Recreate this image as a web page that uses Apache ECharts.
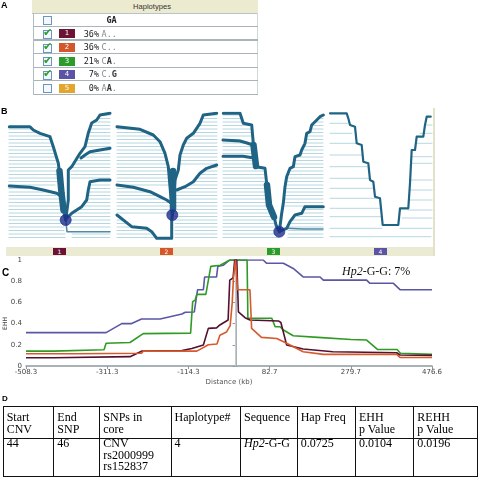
<!DOCTYPE html>
<html><head><meta charset="utf-8">
<script src="https://cdn.jsdelivr.net/npm/echarts@6/dist/echarts.min.js"></script>
<style>
html,body{margin:0;padding:0;background:#fff}
body{width:480px;height:478px;overflow:hidden;position:relative;font-family:"Liberation Sans",Arial,sans-serif}
#chart{position:absolute;left:0;top:0;width:480px;height:478px}
.a{position:absolute;white-space:nowrap}
.plab{position:absolute;font:bold 9px "Liberation Sans",Arial,sans-serif;color:#000}
.mono{font-family:"DejaVu Sans Mono",monospace;font-size:8.5px}
.ser{font-family:"Liberation Serif","Times New Roman",serif;font-size:12px;line-height:11.6px;color:#000}
</style></head>
<body>
<div id="chart"></div>
<div id="overlay"></div>
<script>
// ---------- Panel A data ----------
const hapIds = ['1','2','3','4','5'];
const hapPct = ['36%','36%','21%','7%','0%'];
const hapSeq = ['A..','C..','CA.','C.G','AA.'];
const hapChecked = [true,true,true,true,false];
const hapColors = ['#6b1236','#d4572c','#2b9b2b','#5a53a6','#e2a52d'];
const coreSnps = 'GA';

// ---------- Panel C data (distance kb, EHH) ----------
const xTicks = [-508.3,-311.3,-114.3,82.7,279.7,476.6];
const hap1 = [[-508.3,0.078],[-442,0.078],[-440,0.088],[-256,0.088],[-228,0.14],[-130,0.145],[-106,0.165],[-78,0.198],[-66,0.355],[-46,0.36],[-38,0.387],[-18,0.434],[-14,0.81],[-6,0.83],[-2,1.0],[3,1.0],[7,0.51],[23,0.456],[35,0.434],[104,0.425],[110,0.41],[124,0.198],[164,0.16],[236,0.135],[391,0.125],[399,0.104],[476.6,0.10]];
const hap2 = [[-508.3,0.115],[-389,0.115],[-386,0.12],[-228,0.12],[-224,0.14],[-94,0.14],[-86,0.157],[-66,0.2],[-45,0.207],[-38,0.29],[-22,0.32],[-13,0.38],[-8,0.6],[-5,0.83],[0,1.0],[5,0.72],[35,0.72],[39,0.355],[63,0.27],[100,0.26],[124,0.214],[164,0.135],[213,0.11],[391,0.11],[399,0.08],[476.6,0.08]];
const hap3 = [[-508.3,0.14],[-442,0.14],[-440,0.154],[-319,0.154],[-314,0.214],[-256,0.222],[-224,0.305],[-109,0.31],[-104,0.607],[-98,0.62],[-94,0.676],[-72,0.676],[-60,0.94],[-37,0.95],[-14,1.0],[28,1.0],[30,0.45],[88,0.45],[96,0.37],[108,0.37],[116,0.34],[140,0.285],[200,0.27],[280,0.25],[318,0.245],[345,0.155],[392,0.155],[400,0.12],[476.6,0.11]];
const hap4 = [[-508.3,0.315],[-314,0.315],[-276,0.40],[-252,0.40],[-228,0.443],[-183,0.443],[-130,0.49],[-122,0.507],[-100,0.51],[-96,0.62],[-92,0.72],[-78,0.72],[-75,0.84],[-46,0.84],[-43,0.94],[-30,0.95],[-14,1.0],[67,1.0],[75,0.97],[116,0.97],[140,0.92],[164,0.84],[205,0.84],[213,0.81],[318,0.81],[326,0.78],[383,0.78],[399,0.72],[476.6,0.72]];

// ---------- Panel B data (local diagram coords) ----------
const rowYs = [2,5.5,9,12.5,16,19.5,23,26.5,30,33.5,37,40.5,44,47.5,51,54.5,58,61.5,65,68.5,72,75.5,79,82.5,86,89.5,93,96.5,100,103.5,107,110.5,114,117.5,121,124.5];
const d1LeftEnd = [null,null,null,null,22,29,38,41,42,43,45,46,46,47,47,48,48,49,49,50,46,24,40,47,51,51,52,52,53,53,53,54,55,55,56,56];
const d1RightStart = [93,89,86,82,81,80,79,78,77,77,92,78,70,67,64,62,62,62,62,82,81,80,79,79,78,76,73,68,64,62,62,61,61,null,63,63];
const d2LeftEnd = [null,null,null,null,22,30,36,41,43,45,47,48,49,50,50,51,51,52,52,52,53,16,33,42,48,53,54,54,54,3,7,12,16,34,37,39];
const d2RightStart = [88,85,84,81,79,77,72,69,67,66,64,63,63,62,62,91,84,82,79,77,70,66,60,58,58,57,57,57,56,57,58,58,58,58,58,58];
const d3LeftEnd = [17,18,19,27,28,28,28,16,22,29,30,31,18,31,32,32,41,42,42,42,43,43,43,44,44,44,45,46,47,50,51,51,53,54,55,56];
const d3RightStart = [null,95,91,88,88,86,84,84,84,81,80,79,73,72,72,69,67,66,65,64,64,63,63,63,62,62,62,81,77,74,70,67,65,65,65,65];
const d4LeftRows = [[10.3,18],[20.3,22],[30.3,27],[42,32],[53.7,37],[65.3,39],[75.3,44],[85.3,47],[95.3,50],[103.7,51],[115.3,52],[123.7,101]];
const d4RightRows = [[12,95],[20.3,90],[30.3,86],[43.7,82],[50.3,81],[67,80],[77,80],[87,80],[97,78],[105,72],[115.3,70]];

const d1Thick = [
 [[0.3,13.7],[21,13.7],[24.3,17],[31,20.3],[41,23.7],[44.3,33.7],[49.3,50.3],[51,63.7],[52.7,80.3],[54.3,97],[56.7,107]],
 [[0.3,73],[21,74.3],[34.3,77],[47.7,80.3],[53,84]],
 [[101,0.3],[91,2],[87.7,7],[82.7,10],[79.3,20],[76,33.7],[71,40.3],[62.7,53.7],[59.3,57],[59.3,87],[56.7,107]],
 [[101,35.3],[91,37],[81,38.7],[76,42],[72,45]],
 [[101,67],[91,67],[81,68.7],[79.3,77],[77.7,87],[72.7,93.7],[62.7,100.3],[57.7,105]]
];
const d1Medium = [[[56.7,107],[58,118.7],[62.7,118.7],[101,118.7]]];
const d1Trunk = [[[50.5,58],[52.5,80],[54.5,97]]];
const d2Thick = [
 [[0,13.7],[23,16.3],[36.3,22],[43,28.7],[48,40.3],[51.3,53.7],[53,73.7],[54.7,93.7],[55.3,102]],
 [[0,72],[16.3,74.3],[33,78.7],[43,83.7],[49.7,87],[54,90]],
 [[99.7,0.3],[86.3,2],[83,10.3],[76.3,20.3],[69.7,25.3],[66.3,32],[63,42],[61.3,57],[58,67],[56.3,87],[55.3,102]],
 [[99.7,52],[89.7,55.3],[83,60.3],[76.3,68.7],[68,73.7],[59.7,77]],
 [[0,102],[14.7,113.7],[29.7,115.3],[34.7,118.7],[39.7,125.3],[54.7,125.3],[54.7,107],[55.3,102]]
];
const d2Medium = [];
const d2Trunk = [[[56,58],[56,96]]];
const d3Thick = [
 [[0.3,0.3],[17,0.3],[20.3,10.3],[28.7,12],[30.3,30.3],[33,53.7],[42,55.3],[43.7,70.3],[45.3,90.3],[50.3,100.3],[53,112],[56.3,118.7]],
 [[0,27],[17,28],[24,30],[30,32]],
 [[0,43.3],[20,43.3],[31,45]],
 [[100.3,2],[97,3.7],[92,8.7],[88.7,12],[87,18.7],[83.7,20.3],[82,30.3],[78.7,37],[77,42],[72,43.7],[70.3,53.7],[67,55.3],[63.7,63.7],[62,73.7],[60.3,90.3],[58.7,100.3],[56.3,118.7]],
 [[100.3,93.7],[82,93.7],[78.7,100.3],[72,102],[67,108.7],[63.7,115.3],[57,118]]
];
const d3Medium = [[[63.7,115.3],[80,116],[100,116]]];
const d3Trunk = [[[30.5,32],[33,53]],[[44,72],[46,92],[51,104]]];
const d4Thick = [
 [[0,0.3],[16.7,0.3],[18.3,5.3],[20,12],[25,13.7],[26.7,30.3],[31.7,32],[33.3,48.7],[38.3,50.3],[40,67],[43.3,68.7],[45,83.7],[50,85.3],[52.7,112],[68.3,112],[70,95.3],[78.3,95.3],[80,70.3],[81.7,37],[85,37],[86.7,23.7],[93.3,23.7],[95,12],[96.7,3.7],[100.7,3.7]]
];
const coreDots = [[56.7,107],[55.3,102],[56.3,118.7],null];

// ---------- Panel D data ----------
const tableHeaders = ['Start<br>CNV','End<br>SNP','SNPs in<br>core','Haplotype#','Sequence','Hap Freq','EHH<br>p Value','REHH<br>p Value'];
const tableRow = ['44','46','CNV<br>rs2000999<br>rs152837','4','<i>Hp2</i>-G-G','0.0725','0.0104','0.0196'];

// ================= overlay (HTML) =================
const ov = document.getElementById('overlay');
function add(html){ov.insertAdjacentHTML('beforeend',html);}
add('<div class="plab" style="left:1px;top:0px">A</div>');
add('<div class="plab" style="left:1px;top:106px">B</div>');
add('<div class="plab" style="left:2px;top:267px;font-size:10px">C</div>');
add('<div class="plab" style="left:2px;top:394px;font-size:8px">D</div>');
add('<div class="a" style="left:-2px;top:320px;font:6px \'DejaVu Sans\',sans-serif;color:#444;transform:rotate(-90deg);transform-origin:50% 50%">EHH</div>');

// Panel A table
add('<div class="a" style="left:32px;top:0;width:226px;height:13px;background:#ecebd0;border-bottom:1px solid #b8c4c8"></div>');
add('<div class="a" style="left:133px;top:1.5px;font:7.6px \'Liberation Sans\',sans-serif;color:#333">Haplotypes</div>');
add('<div class="a" style="left:33px;top:13px;width:1px;height:82px;background:#b0bcc0"></div>');
add('<div class="a" style="left:257px;top:13px;width:1px;height:82px;background:#d0d8da"></div>');
const rowH = 13.6;
function checkbox(top, checked){
  let h = '<div class="a" style="left:43px;top:'+top+'px;width:7px;height:7px;border:1px solid #6d95c2;background:#f4f8fc"></div>';
  if (checked) h += '<div class="a" style="left:43px;top:'+(top-3.5)+'px;font:bold 11px \'DejaVu Sans\',sans-serif;color:#2f9e2f">\u2714</div>';
  return h;
}
for (let r=0;r<6;r++){
  const top = 13.5 + r*rowH;
  add('<div class="a" style="left:34px;top:'+(top+rowH-1.3).toFixed(1)+'px;width:224px;height:1.3px;background:#a9b4b8"></div>');
  if (r===0){
    add(checkbox(top+2.8,false));
    add('<div class="a mono" style="left:106.5px;top:'+(top+1.5)+'px;color:#222;font-weight:bold">'+coreSnps+'</div>');
  } else {
    const i=r-1;
    add(checkbox(top+2.8,hapChecked[i]));
    add('<div class="a" style="left:59px;top:'+(top+2.3).toFixed(1)+'px;width:16px;height:9px;background:'+hapColors[i]+';color:#fff;font:7px \'DejaVu Sans\',sans-serif;text-align:center;line-height:9px">'+hapIds[i]+'</div>');
    add('<div class="a mono" style="left:79px;width:20px;text-align:right;top:'+(top+1.5)+'px;color:#222">'+hapPct[i]+'</div>');
    const s = hapSeq[i];
    let seqHtml = '<span style="color:#8a8a8a">'+s[0]+'</span>';
    for (let k=1;k<s.length;k++) seqHtml += '<span style="color:'+(s[k]==='.'?'#8a8a8a':'#333')+';'+(s[k]==='.'?'':'font-weight:bold')+'">'+s[k]+'</span>';
    add('<div class="a mono" style="left:101.5px;top:'+(top+1.5)+'px">'+seqHtml+'</div>');
  }
}

// Panel B frame
add('<div class="a" style="left:6px;top:247px;width:429px;height:9px;background:#ebead2"></div>');
add('<div class="a" style="left:433px;top:108px;width:2px;height:148px;background:#e3e2c8"></div>');
const badgeX = [53,160,267,374];
for (let i=0;i<4;i++){
  add('<div class="a" style="left:'+badgeX[i]+'px;top:248px;width:13px;height:7px;background:'+hapColors[i]+';color:#fff;font:6px \'DejaVu Sans\',sans-serif;text-align:center;line-height:7px">'+hapIds[i]+'</div>');
}

// Panel C annotation
add('<div class="a" style="left:342px;top:265px;font:12px \'Liberation Serif\',serif;line-height:12px;color:#111"><i>Hp2</i>-G-G: 7%</div>');

// Panel D table
const colX = [2.7,53.3,99.3,170.5,240,296.7,355,413.3,477.3];
const rowLinesY = [406,437.5,475.5];
for (const y of rowLinesY) add('<div class="a" style="left:'+colX[0]+'px;top:'+y+'px;width:'+(colX[8]-colX[0]+1)+'px;height:1px;background:#111"></div>');
for (const x of colX) add('<div class="a" style="left:'+x+'px;top:406px;width:1px;height:70.5px;background:#111"></div>');
for (let c=0;c<8;c++){
  add('<div class="a ser" style="left:'+(colX[c]+4)+'px;top:412px">'+tableHeaders[c]+'</div>');
  add('<div class="a ser" style="left:'+(colX[c]+4)+'px;top:438px">'+tableRow[c]+'</div>');
}

// ================= ECharts =================
const chart = echarts.init(document.getElementById('chart'), null, {renderer:'canvas'});
const diagW = [101,100,100,102];
const diagLeft = [9,117,223,330];
const grids = [], xAxes = [], yAxes = [], series = [];
for (let i=0;i<4;i++){
  grids.push({left:diagLeft[i], top:113, width:diagW[i], height:130, containLabel:false, outerBoundsMode:'none'});
  xAxes.push({gridIndex:i, type:'value', min:0, max:diagW[i], show:false});
  yAxes.push({gridIndex:i, type:'value', min:0, max:130, inverse:true, show:false});
}
const thinColor = '#b6d7e0', thickColor = '#1f6485', medColor = '#4f8ba6';
function rowsToLines(ysArr, leftEnd, rightStart, w){
  const out=[];
  ysArr.forEach((y,k)=>{
    if (leftEnd && leftEnd[k]!=null) out.push({coords:[[0,y],[leftEnd[k],y]]});
    if (rightStart && rightStart[k]!=null) out.push({coords:[[rightStart[k],y],[w,y]]});
  });
  return out;
}
function linesSeries(idx, paths, color, width){
  return {type:'lines', coordinateSystem:'cartesian2d', xAxisIndex:idx, yAxisIndex:idx, polyline:true, silent:true,
    data: paths.map(p=>p.coords?p:{coords:p}), lineStyle:{color:color, width:width, opacity:1, cap:'round', join:'round'}};
}
const thinSets = [
  rowsToLines(rowYs,d1LeftEnd,d1RightStart,diagW[0]),
  rowsToLines(rowYs,d2LeftEnd,d2RightStart,diagW[1]),
  rowsToLines(rowYs,d3LeftEnd,d3RightStart,diagW[2]),
  d4LeftRows.map(r=>({coords:[[0,r[0]],[r[1],r[0]]]})).concat(d4RightRows.map(r=>({coords:[[r[1],r[0]],[diagW[3],r[0]]]})))
];
const thickSets = [d1Thick,d2Thick,d3Thick,d4Thick];
const medSets = [d1Medium,d2Medium,d3Medium,[]];
const trunkSets = [d1Trunk,d2Trunk,d3Trunk,[]];
for (let i=0;i<4;i++){
  series.push(linesSeries(i, thinSets[i], thinColor, 1));
  if (medSets[i].length) series.push(linesSeries(i, medSets[i], medColor, 1.6));
  series.push(linesSeries(i, thickSets[i], thickColor, i===3?2.2:3));
  if (trunkSets[i].length) series.push(linesSeries(i, trunkSets[i], thickColor, 6.5));
  if (coreDots[i]) series.push({type:'scatter', xAxisIndex:i, yAxisIndex:i, data:[coreDots[i]], symbolSize:11, silent:true,
      itemStyle:{color:'#1c2c88', borderColor:'#2a3a9a', borderWidth:1}, z:5});
}
// Panel C
grids.push({left:26, top:260, width:406, height:106, containLabel:false, outerBoundsMode:'none'});
const axisCol = '#8d9ba0';
xAxes.push({gridIndex:4, type:'value', min:-508.3, max:476.6,
  axisLine:{show:true, onZero:false, lineStyle:{color:axisCol, width:1.5}},
  axisTick:{show:true, customValues:xTicks, length:3, lineStyle:{color:axisCol}},
  axisLabel:{customValues:xTicks, fontSize:7, color:'#444', margin:3, fontFamily:'DejaVu Sans'},
  splitLine:{show:false},
  name:'Distance (kb)', nameLocation:'middle', nameGap:13, nameTextStyle:{fontSize:7, color:'#555', fontFamily:'DejaVu Sans'}});
yAxes.push({gridIndex:4, type:'value', min:0, max:1, interval:0.2,
  axisLine:{show:true, lineStyle:{color:axisCol, width:1.5}},
  axisTick:{show:true, length:3, lineStyle:{color:axisCol}},
  axisLabel:{fontSize:7, color:'#444', margin:4, fontFamily:'DejaVu Sans', formatter:v=>String(+v.toFixed(1))},
  splitLine:{show:false}});
const hapSeries = [[hap4,'#5a57a5'],[hap3,'#2f9b25'],[hap1,'#55102f'],[hap2,'#d65a2c']];
hapSeries.forEach(([d,c],k)=>{
  const s = {type:'line', xAxisIndex:4, yAxisIndex:4, data:d, showSymbol:false, symbol:'none', silent:true,
    lineStyle:{color:c, width:1.6}, z:3+k};
  if (k===0) s.markLine = {silent:true, symbol:'none', label:{show:false}, lineStyle:{color:'#c9c9c9', width:1, type:'solid'}, data:[{xAxis:0}]};
  series.push(s);
});
chart.setOption({animation:false, grid:grids, xAxis:xAxes, yAxis:yAxes, series:series});
</script>
</body></html>
